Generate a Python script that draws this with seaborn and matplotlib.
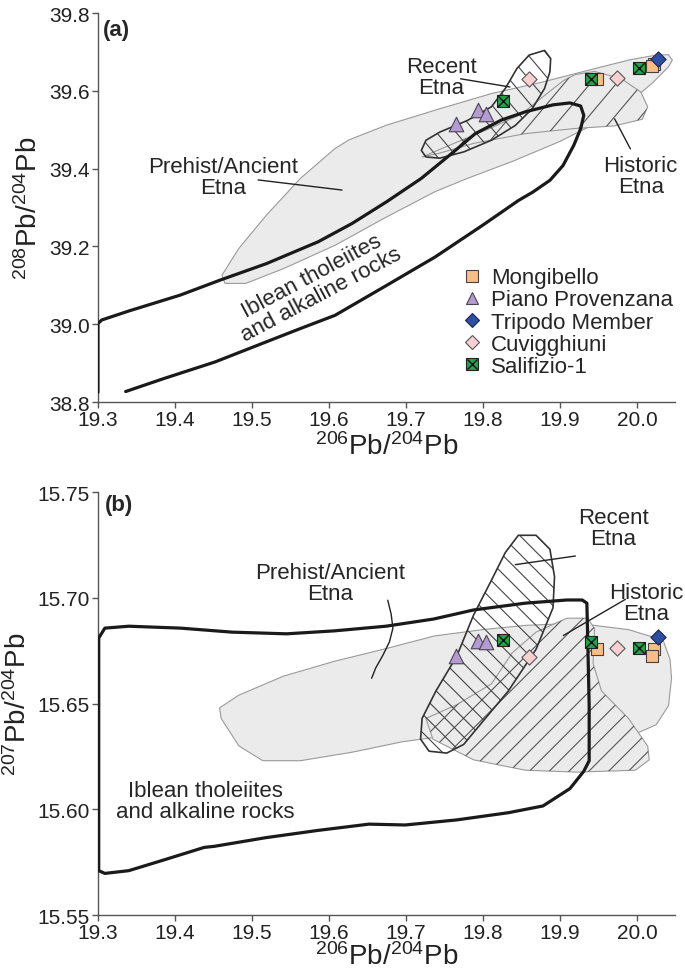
import numpy as np
import pandas as pd
import matplotlib
matplotlib.use('Agg')
import matplotlib.pyplot as plt
import matplotlib.transforms as mtransforms
import seaborn as sns
from matplotlib.patches import Polygon
from matplotlib.collections import LineCollection
from matplotlib.lines import Line2D
from matplotlib.legend_handler import HandlerTuple

# ===== data: samples (206Pb/204Pb, 207Pb/204Pb, 208Pb/204Pb) =====
mong_206 = [19.948, 20.022, 20.020]
mong_207 = [15.676, 15.6757, 15.6727]
mong_208 = [39.631, 39.670, 39.664]

piano_206 = [19.765, 19.794, 19.804]
piano_207 = [15.6724, 15.6797, 15.6792]
piano_208 = [39.5155, 39.550, 39.541]

trip_206 = [20.028]
trip_207 = [15.6814]
trip_208 = [39.681]

cuv_206 = [19.860, 19.974]
cuv_207 = [15.6721, 15.6761]
cuv_208 = [39.631, 39.633]

sal_206 = [19.826, 19.941, 20.003]
sal_207 = [15.6802, 15.6792, 15.6761]
sal_208 = [39.573, 39.631, 39.659]

# ===== field outlines, panel (a) =====
pre_a_x = [19.461, 19.483, 19.519, 19.563, 19.608, 19.626, 19.675, 19.744, 19.811, 19.878, 19.945,
           19.989, 20.025, 20.041, 20.046, 20.041, 20.020, 19.990, 19.950, 19.900, 19.840, 19.780,
           19.738, 19.675, 19.608, 19.541, 19.492, 19.465]
pre_a_y = [39.126, 39.195, 39.281, 39.375, 39.452, 39.474, 39.512, 39.554, 39.593, 39.623, 39.657,
           39.679, 39.692, 39.693, 39.679, 39.662, 39.620, 39.570, 39.520, 39.470, 39.420, 39.375,
           39.341, 39.276, 39.203, 39.143, 39.105, 39.105]

hist_a_x = [19.721, 19.766, 19.811, 19.850, 19.878, 19.905, 19.920, 19.945, 19.980, 20.005, 20.014,
            20.007, 19.971, 19.918, 19.855, 19.788, 19.744]
hist_a_y = [39.430, 39.468, 39.505, 39.540, 39.585, 39.627, 39.642, 39.650, 39.631, 39.597, 39.559,
            39.527, 39.510, 39.503, 39.490, 39.465, 39.440]

rec_a_x = [19.880, 19.888, 19.887, 19.880, 19.864, 19.842, 19.811, 19.775, 19.744, 19.726, 19.720,
           19.726, 19.744, 19.780, 19.811, 19.829, 19.844, 19.860]
rec_a_y = [39.704, 39.683, 39.649, 39.606, 39.554, 39.511, 39.473, 39.443, 39.427, 39.430, 39.447,
           39.473, 39.494, 39.524, 39.559, 39.606, 39.657, 39.692]

ibl_a_x = [19.300, 19.300, 19.305, 19.340, 19.407, 19.458, 19.519, 19.586, 19.630, 19.675, 19.720,
           19.760, 19.790, 19.824, 19.855, 19.891, 19.913, 19.927, 19.931, 19.927, 19.918, 19.904,
           19.887, 19.865, 19.846, 19.800, 19.738, 19.675, 19.608, 19.563, 19.519, 19.452, 19.385,
           19.336]
ibl_a_y = [38.825, 39.002, 39.011, 39.034, 39.075, 39.113, 39.156, 39.212, 39.259, 39.315, 39.375,
           39.440, 39.490, 39.525, 39.546, 39.564, 39.569, 39.561, 39.537, 39.503, 39.460, 39.408,
           39.370, 39.340, 39.318, 39.255, 39.173, 39.100, 39.023, 38.989, 38.955, 38.903, 38.860,
           38.827]

# ===== field outlines, panel (b) =====
pre_b_x = [19.458, 19.483, 19.541, 19.607, 19.674, 19.737, 19.800, 19.855, 19.922, 19.989, 20.034,
           20.043, 20.045, 20.041, 20.025, 20.000, 19.950, 19.880, 19.800, 19.737, 19.696, 19.630,
           19.563, 19.514, 19.483, 19.460]
pre_b_y = [15.648, 15.654, 15.663, 15.670, 15.676, 15.682, 15.685, 15.687, 15.688, 15.685, 15.680,
           15.671, 15.662, 15.649, 15.640, 15.636, 15.634, 15.633, 15.632, 15.634, 15.632, 15.627,
           15.623, 15.623, 15.630, 15.643]

hist_b_x = [19.726, 19.766, 19.811, 19.838, 19.869, 19.909, 19.936, 19.945, 19.943, 19.954, 19.989,
            20.014, 20.016, 19.998, 19.922, 19.855, 19.788, 19.735]
hist_b_y = [15.643, 15.6495, 15.6593, 15.674, 15.6838, 15.6904, 15.6904, 15.6855, 15.6691, 15.656,
            15.643, 15.6299, 15.6234, 15.6185, 15.6176, 15.6185, 15.6234, 15.6332]

rec_b_x = [19.788, 19.833, 19.869, 19.891, 19.893, 19.887, 19.869, 19.846, 19.829, 19.811, 19.788,
           19.766, 19.739, 19.721, 19.719, 19.730, 19.753, 19.775]
rec_b_y = [15.6364, 15.656, 15.6757, 15.6953, 15.710, 15.723, 15.7296, 15.7296, 15.7214, 15.7083,
           15.692, 15.6724, 15.656, 15.643, 15.6332, 15.6275, 15.6266, 15.6307]

ibl_b_x = [19.301, 19.301, 19.309, 19.340, 19.407, 19.474, 19.545, 19.607, 19.674, 19.736, 19.788,
           19.855, 19.909, 19.929, 19.935, 19.936, 19.938, 19.938, 19.931, 19.913, 19.878, 19.833,
           19.766, 19.699, 19.652, 19.585, 19.518, 19.451, 19.438, 19.385, 19.340, 19.309]
ibl_b_y = [15.571, 15.681, 15.6857, 15.6866, 15.6857, 15.6838, 15.683, 15.6844, 15.6866, 15.690,
           15.6943, 15.6975, 15.699, 15.699, 15.6975, 15.682, 15.649, 15.623, 15.618, 15.6098,
           15.6016, 15.5984, 15.595, 15.5926, 15.593, 15.590, 15.5866, 15.5825, 15.582, 15.576,
           15.571, 15.5697]

# leader for Prehist/Ancient label in (b)
lead_b_x = [19.6764, 19.6808, 19.6831, 19.6786, 19.6697, 19.6608, 19.6555]
lead_b_y = [15.6989, 15.6923, 15.6857, 15.6792, 15.6726, 15.6669, 15.6620]

groups = ['Mongibello', 'Piano Provenzana', 'Tripodo Member', 'Cuvigghiuni', 'Salifizio-1']
face = ['#f9bd86', '#b49bd1', '#2c4fa3', '#f8d0d1', '#1fa64a']
edge = ['#4a4040', '#4a4550', '#1a2550', '#555555', '#222222']
marks = ['s', '^', 'D', 'D', 's']
sizes = [80, 110, 60, 60, 80]

rows = []
for g, a, b, c in zip(groups,
                      [mong_206, piano_206, trip_206, cuv_206, sal_206],
                      [mong_207, piano_207, trip_207, cuv_207, sal_207],
                      [mong_208, piano_208, trip_208, cuv_208, sal_208]):
    for i in range(len(a)):
        rows.append({'group': g, 'pb206': a[i], 'pb207': b[i], 'pb208': c[i]})
df = pd.DataFrame(rows)

# ===== style =====
sns.set_style('ticks')
plt.rcParams['font.family'] = ['Liberation Sans', 'DejaVu Sans']
plt.rcParams['mathtext.fontset'] = 'custom'
plt.rcParams['mathtext.rm'] = 'Liberation Sans'
plt.rcParams['mathtext.it'] = 'Liberation Sans:italic'
plt.rcParams['mathtext.bf'] = 'Liberation Sans:bold'

fig = plt.figure(figsize=(6.85, 9.7), dpi=100)
ax1 = fig.add_axes([0.143, 0.5845, 0.843, 0.401])
ax2 = fig.add_axes([0.143, 0.0556, 0.843, 0.436])

FILL = '#ebebeb'
GREY_EDGE = '#9a9a9a'


def hatch(ax, patch, angle, spacing, color, lw=0.8):
    pos = ax.get_position()
    W = pos.width * fig.get_figwidth() * fig.dpi
    H = pos.height * fig.get_figheight() * fig.dpi
    t = np.tan(np.radians(angle))
    dc = spacing / abs(np.cos(np.radians(angle)))
    cs = np.arange(-abs(t) * W - H, H + abs(t) * W, dc)
    segs = [[(0, c), (W, t * W + c)] for c in cs]
    trans = mtransforms.Affine2D().scale(1 / W, 1 / H) + ax.transAxes
    lc = LineCollection(segs, colors=color, linewidths=lw, transform=trans, zorder=2)
    ax.add_collection(lc, autolim=False)
    lc.set_clip_path(patch)


def add_field(ax, xs, ys, fc, ec, lw, z):
    p = Polygon(np.column_stack([xs, ys]), closed=True, facecolor=fc, edgecolor=ec,
                linewidth=lw, zorder=z, joinstyle='round')
    ax.add_patch(p)
    return p


def scatter(ax, ycol):
    for g, fc, ec, m, s in zip(groups, face, edge, marks, sizes):
        sub = df[df['group'] == g]
        sns.scatterplot(data=sub, x='pb206', y=ycol, marker=m, color=fc, edgecolor=ec,
                        s=s, linewidth=0.8, ax=ax, zorder=6, legend=False)
        if g == 'Salifizio-1':
            sns.scatterplot(data=sub, x='pb206', y=ycol, marker='x', color='#111111',
                            s=60, linewidth=1.0, ax=ax, zorder=7, legend=False)


def style_axes(ax, lpad):
    sns.despine(ax=ax)
    for sp in ['left', 'bottom']:
        ax.spines[sp].set_color('#555555')
        ax.spines[sp].set_linewidth(1.0)
    ax.tick_params(direction='out', length=4, width=1, color='#555555',
                   labelsize=15, labelcolor='#222222', pad=2)
    ax.set_xlim(19.3, 20.05)
    ax.set_xticks(np.arange(19.3, 20.01, 0.1))
    ax.set_xticklabels(['%.1f' % v for v in np.arange(19.3, 20.01, 0.1)])
    ax.set_xlabel(r'$^{206}$Pb/$^{204}$Pb', fontsize=20, color='#222222', labelpad=lpad)


# ===== panel (a) =====
ax = ax1
p = add_field(ax, pre_a_x, pre_a_y, FILL, GREY_EDGE, 0.8, 1)
ph = add_field(ax, hist_a_x, hist_a_y, FILL, GREY_EDGE, 0.8, 1.2)
hatch(ax, ph, 50, 20, '#555555')
pr = add_field(ax, rec_a_x, rec_a_y, 'none', '#333333', 1.2, 3)
hatch(ax, pr, -50, 15, '#444444')
ax.plot(ibl_a_x, ibl_a_y, color='#1a1a1a', lw=2.3, zorder=4, solid_joinstyle='round',
        solid_capstyle='round')
scatter(ax, 'pb208')

ax.plot([19.771, 19.835], [39.631, 39.610], color='#222222', lw=1, zorder=5)
ax.plot([19.9915, 19.971], [39.451, 39.528], color='#222222', lw=1, zorder=5)
ax.plot([19.508, 19.617], [39.371, 39.345], color='#222222', lw=1, zorder=5)
ax.text(19.746, 39.636, 'Recent\nEtna', fontsize=16, ha='center', va='center', linespacing=1.0)
ax.text(20.005, 39.381, 'Historic\nEtna', fontsize=16, ha='center', va='center', linespacing=1.0)
ax.text(19.463, 39.378, 'Prehist/Ancient\nEtna', fontsize=16, ha='center', va='center',
        linespacing=1.0)
ax.text(19.584, 39.100, 'Iblean tholeiites\nand alkaline rocks', fontsize=16, ha='center',
        va='center', rotation=28, rotation_mode='anchor', linespacing=1.0)
ax.text(0.008, 0.985, '(a)', transform=ax.transAxes, fontsize=16, fontweight='bold',
        ha='left', va='top')

ax.set_ylim(38.8, 39.8)
ax.set_yticks(np.arange(38.8, 39.81, 0.2))
ax.set_yticklabels(['%.1f' % v for v in np.arange(38.8, 39.81, 0.2)])
style_axes(ax, 2)
ax.set_ylabel(r'$^{208}$Pb/$^{204}$Pb', fontsize=20, color='#222222', labelpad=4)

handles = []
for g, fc, ec, m in zip(groups, face, edge, marks):
    ms = 9 if m == '^' else 8
    h = Line2D([], [], ls='', marker=m, markerfacecolor=fc, markeredgecolor=ec,
               markersize=ms if m != 'D' else 7, markeredgewidth=0.8)
    if g == 'Salifizio-1':
        h = (h, Line2D([], [], ls='', marker='x', color='#111111', markersize=7,
                       markeredgewidth=1.0))
    handles.append(h)
ax.legend(handles, groups, loc='upper left', bbox_to_anchor=(0.612, 0.375), frameon=False,
          fontsize=16, handlelength=0.9, handletextpad=0.4, labelspacing=0.05,
          borderpad=0, handler_map={tuple: HandlerTuple(ndivide=1)})

# ===== panel (b) =====
ax = ax2
p = add_field(ax, pre_b_x, pre_b_y, FILL, GREY_EDGE, 0.8, 1)
ph = add_field(ax, hist_b_x, hist_b_y, FILL, GREY_EDGE, 0.8, 1.2)
hatch(ax, ph, 45, 14, '#555555')
pr = add_field(ax, rec_b_x, rec_b_y, 'none', '#333333', 1.2, 3)
hatch(ax, pr, -45, 13, '#444444')
ax.add_patch(Polygon(np.column_stack([ibl_b_x, ibl_b_y]), closed=True, fill=False,
                     edgecolor='#1a1a1a', linewidth=2.3, zorder=4, joinstyle='round'))
scatter(ax, 'pb207')

ax.plot(lead_b_x, lead_b_y, color='#222222', lw=1, zorder=5)
ax.plot([19.920, 19.842], [15.7198, 15.7157], color='#222222', lw=1, zorder=5)
ax.plot([19.985, 19.9045], [15.6993, 15.6822], color='#222222', lw=1, zorder=5)
ax.text(19.969, 15.7332, 'Recent\nEtna', fontsize=16, ha='center', va='center', linespacing=1.0)
ax.text(20.012, 15.6977, 'Historic\nEtna', fontsize=16, ha='center', va='center',
        linespacing=1.0)
ax.text(19.601, 15.707, 'Prehist/Ancient\nEtna', fontsize=16, ha='center', va='center',
        linespacing=1.0)
ax.text(19.440, 15.6038, 'Iblean tholeiites\nand alkaline rocks', fontsize=16, ha='center',
        va='center', linespacing=1.0)
ax.text(0.012, 0.995, '(b)', transform=ax.transAxes, fontsize=16, fontweight='bold',
        ha='left', va='top')

ax.set_ylim(15.55, 15.75)
ax.set_yticks(np.arange(15.55, 15.751, 0.05))
ax.set_yticklabels(['%.2f' % v for v in np.arange(15.55, 15.751, 0.05)])
style_axes(ax, 0)
ax.set_ylabel(r'$^{207}$Pb/$^{204}$Pb', fontsize=20, color='#222222', labelpad=4)

fig.savefig('out.png', dpi=100)
